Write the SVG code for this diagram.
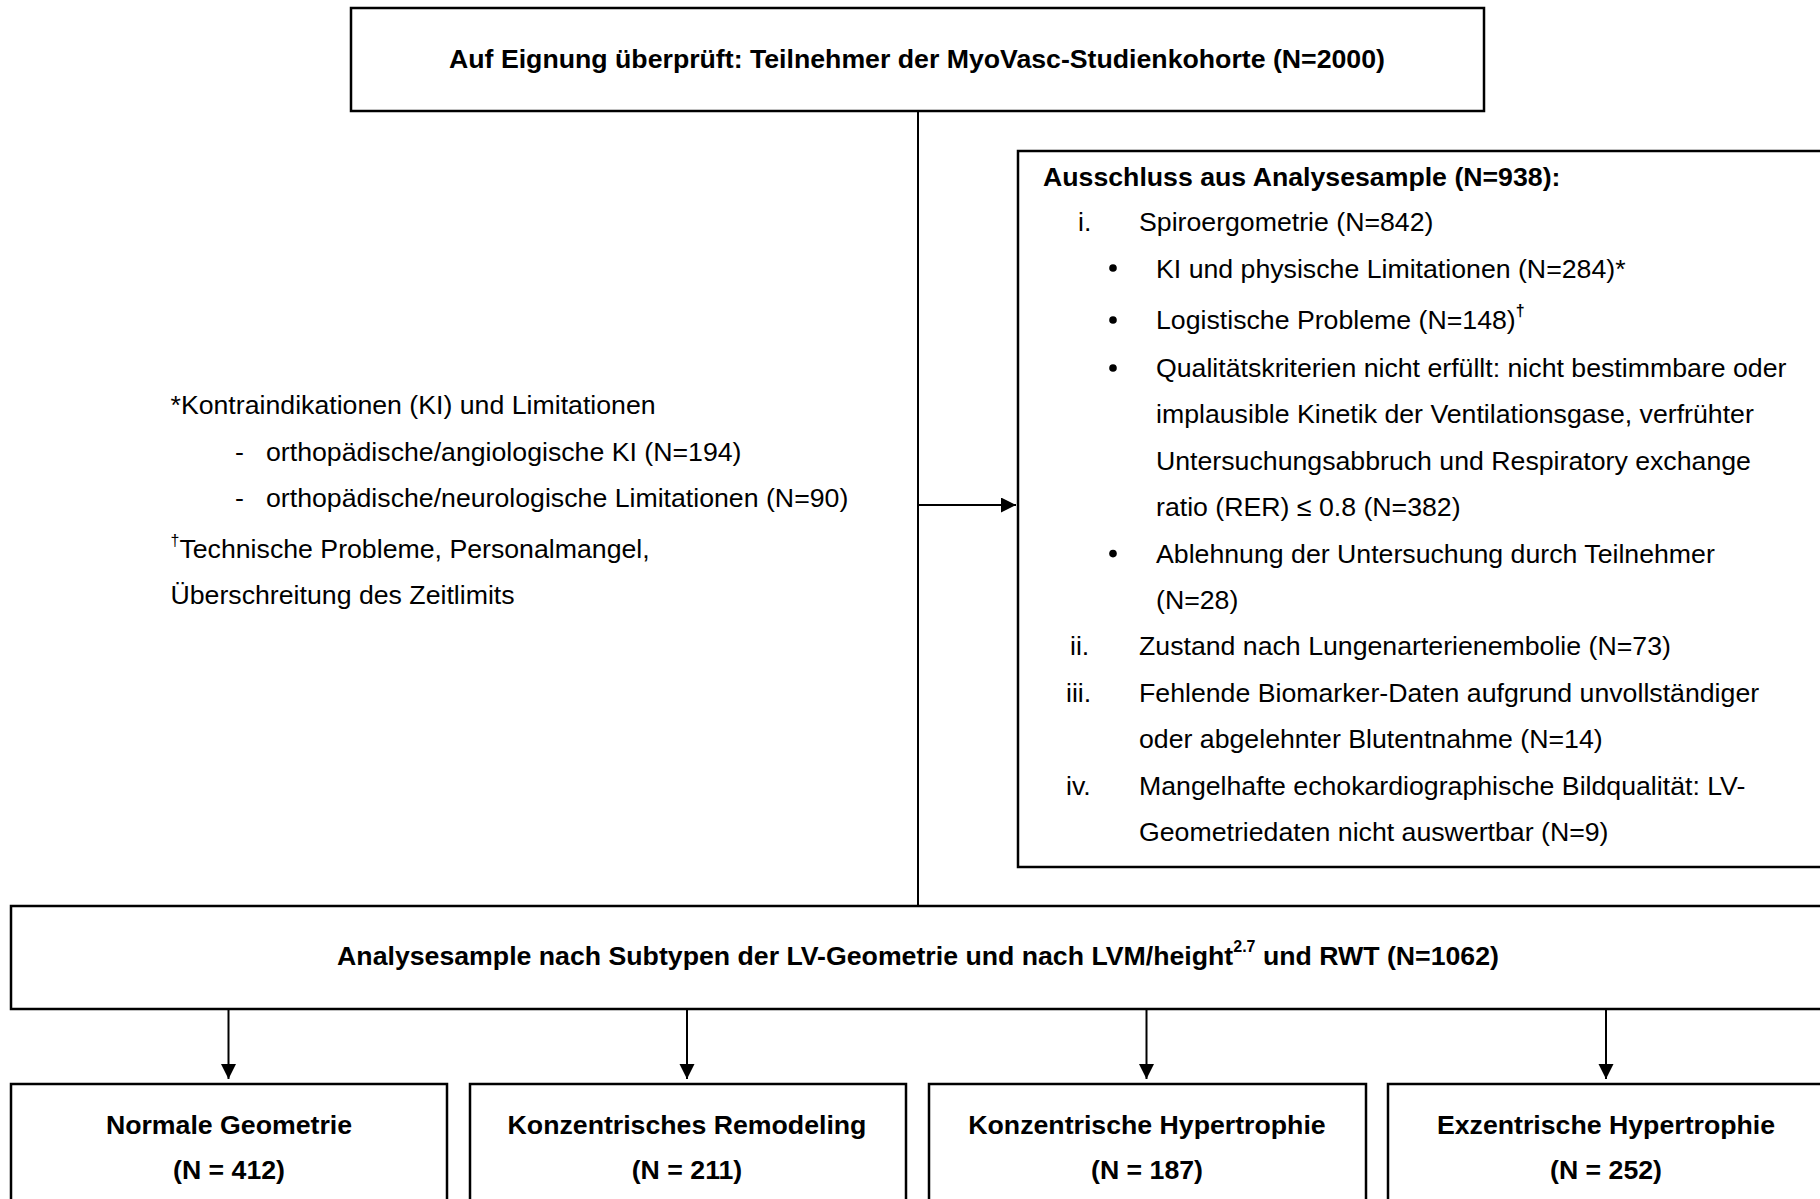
<svg xmlns="http://www.w3.org/2000/svg" width="1820" height="1199" viewBox="0 0 1820 1199">
<defs>
<style>
.box{fill:#fff;stroke:#000;stroke-width:2.5}
.t{font-family:"Liberation Sans",Arial,sans-serif;font-size:26.7px;fill:#000}
.b{font-weight:bold}
.c{text-anchor:middle}
.ln{stroke:#000;stroke-width:2;fill:none}
.sup{font-size:16px}
</style>
<marker id="ah" markerWidth="16" markerHeight="16" refX="15" refY="7.5" orient="auto" markerUnits="userSpaceOnUse">
<path d="M0,0 L15,7.5 L0,15 Z" fill="#000"/>
</marker>
</defs>
<rect width="1820" height="1199" fill="#fff"/>

<g id="connectors">
<line class="ln" x1="918" y1="111" x2="918" y2="906"/>
<line class="ln" x1="918" y1="505" x2="1016" y2="505" marker-end="url(#ah)"/>
<line class="ln" x1="228.5" y1="1009" x2="228.5" y2="1079" marker-end="url(#ah)"/>
<line class="ln" x1="687" y1="1009" x2="687" y2="1079" marker-end="url(#ah)"/>
<line class="ln" x1="1146.5" y1="1009" x2="1146.5" y2="1079" marker-end="url(#ah)"/>
<line class="ln" x1="1606" y1="1009" x2="1606" y2="1079" marker-end="url(#ah)"/>
</g>

<g id="node-screened">
<rect class="box" x="351" y="8" width="1133" height="103"/>
<text class="t b c" x="917" y="68">Auf Eignung überprüft: Teilnehmer der MyoVasc-Studienkohorte (N=2000)</text>
</g>

<g id="node-exclusion">
<rect class="box" x="1018" y="151" width="820" height="716"/>
<text class="t b" x="1043" y="186">Ausschluss aus Analysesample (N=938):</text>
<text class="t" x="1078" y="231">i.</text>
<text class="t" x="1139" y="231">Spiroergometrie (N=842)</text>
<circle cx="1113" cy="268" r="3.8"/>
<text class="t" x="1156" y="277.5">KI und physische Limitationen (N=284)*</text>
<circle cx="1113" cy="320" r="3.8"/>
<text class="t" x="1156" y="329">Logistische Probleme (N=148)<tspan class="sup b" dy="-13">†</tspan></text>
<circle cx="1113" cy="368" r="3.8"/>
<text class="t" x="1156" y="377">Qualitätskriterien nicht erfüllt: nicht bestimmbare oder</text>
<text class="t" x="1156" y="423.4">implausible Kinetik der Ventilationsgase, verfrühter</text>
<text class="t" x="1156" y="469.8">Untersuchungsabbruch und Respiratory exchange</text>
<text class="t" x="1156" y="516.2">ratio (RER) ≤ 0.8 (N=382)</text>
<circle cx="1113" cy="553.6" r="3.8"/>
<text class="t" x="1156" y="562.6">Ablehnung der Untersuchung durch Teilnehmer</text>
<text class="t" x="1156" y="609">(N=28)</text>
<text class="t" x="1070" y="655.4">ii.</text>
<text class="t" x="1139" y="655.4">Zustand nach Lungenarterienembolie (N=73)</text>
<text class="t" x="1066" y="701.8">iii.</text>
<text class="t" x="1139" y="701.8">Fehlende Biomarker-Daten aufgrund unvollständiger</text>
<text class="t" x="1139" y="748.2">oder abgelehnter Blutentnahme (N=14)</text>
<text class="t" x="1066" y="794.6">iv.</text>
<text class="t" x="1139" y="794.6">Mangelhafte echokardiographische Bildqualität: LV-</text>
<text class="t" x="1139" y="841">Geometriedaten nicht auswertbar (N=9)</text>
</g>

<g id="footnotes">
<text class="t" x="170.5" y="414">*Kontraindikationen (KI) und Limitationen</text>
<text class="t" x="235" y="460.5">-</text>
<text class="t" x="266" y="460.5">orthopädische/angiologische KI (N=194)</text>
<text class="t" x="235" y="507">-</text>
<text class="t" x="266" y="507">orthopädische/neurologische Limitationen (N=90)</text>
<text class="t" x="170.5" y="558"><tspan class="sup" dy="-12">†</tspan><tspan dy="12">Technische Probleme, Personalmangel,</tspan></text>
<text class="t" x="170.5" y="604">Überschreitung des Zeitlimits</text>
</g>

<g id="node-analysis">
<rect class="box" x="11" y="906" width="1830" height="103"/>
<text class="t b c" x="918" y="965">Analysesample nach Subtypen der LV-Geometrie und nach LVM/height<tspan class="sup" dy="-13">2.7</tspan><tspan dy="13"> und RWT (N=1062)</tspan></text>
</g>

<g id="node-normal">
<rect class="box" x="11" y="1084" width="436" height="140"/>
<text class="t b c" x="229" y="1134">Normale Geometrie</text>
<text class="t b c" x="229" y="1179">(N = 412)</text>
</g>
<g id="node-remodeling">
<rect class="box" x="470" y="1084" width="436" height="140"/>
<text class="t b c" x="687" y="1134">Konzentrisches Remodeling</text>
<text class="t b c" x="687" y="1179">(N = 211)</text>
</g>
<g id="node-konz-hyp">
<rect class="box" x="929" y="1084" width="437" height="140"/>
<text class="t b c" x="1147" y="1134">Konzentrische Hypertrophie</text>
<text class="t b c" x="1147" y="1179">(N = 187)</text>
</g>
<g id="node-exz-hyp">
<rect class="box" x="1388" y="1084" width="437" height="140"/>
<text class="t b c" x="1606" y="1134">Exzentrische Hypertrophie</text>
<text class="t b c" x="1606" y="1179">(N = 252)</text>
</g>
</svg>
